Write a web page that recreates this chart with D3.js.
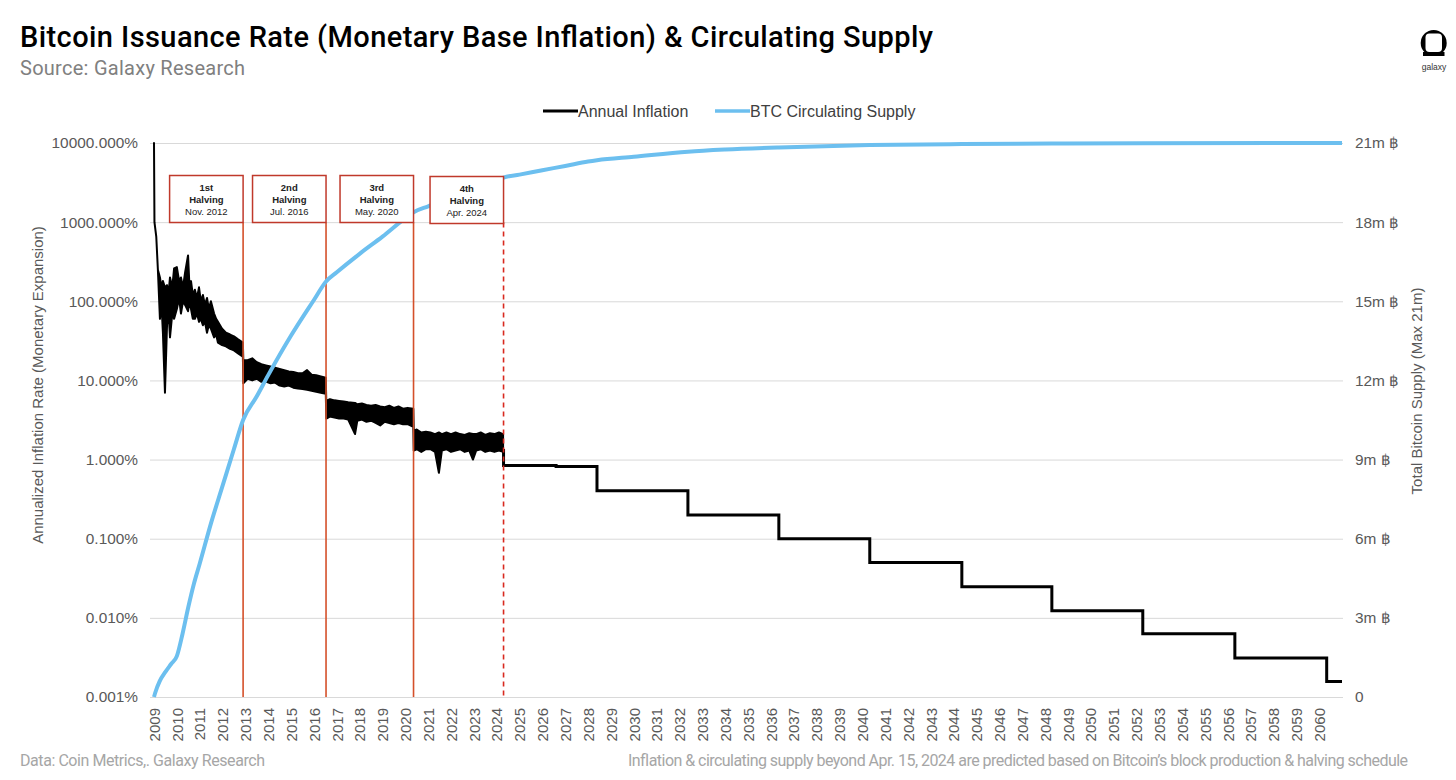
<!DOCTYPE html>
<html>
<head>
<meta charset="utf-8">
<script src="https://cdn.jsdelivr.net/npm/d3@7"></script>
<style>
  body { margin: 0; background: #fff; }
  svg { display: block; }
</style>
</head>
<body>
<svg id="chart" width="1456" height="780"></svg>
<script>
// year ticks on the category axis
const years = d3.range(2009, 2061);

// historical annual inflation, % : [year, low, high]
const inflationHistory = [
  [2009.00, 10000, 10000], [2009.02, 1000, 1000], [2009.10, 650, 650], [2009.17, 250, 250],
  [2009.26, 60, 200], [2009.33, 90, 150], [2009.39, 40, 180], [2009.48, 7, 150], [2009.57, 50, 160],
  [2009.63, 80, 120], [2009.70, 35, 200], [2009.80, 70, 150], [2009.88, 60, 260], [2010.00, 80, 270],
  [2010.10, 110, 180], [2010.18, 70, 200], [2010.27, 100, 150], [2010.36, 90, 230], [2010.49, 75, 380],
  [2010.55, 100, 160], [2010.62, 80, 180], [2010.70, 60, 120], [2010.79, 60, 140], [2010.88, 70, 110],
  [2010.97, 55, 150], [2011.05, 60, 100], [2011.14, 50, 120], [2011.23, 55, 90], [2011.32, 40, 110],
  [2011.40, 50, 80], [2011.49, 45, 100], [2011.63, 35, 70], [2011.72, 38, 60], [2011.80, 30, 55],
  [2011.98, 28, 45], [2012.15, 27, 40], [2012.33, 25, 38], [2012.50, 24, 36], [2012.68, 22, 33],
  [2012.89, 20, 30],
  [2012.91, 9.2, 18], [2013.10, 10.5, 18], [2013.30, 10, 19], [2013.50, 10.5, 17],
  [2013.70, 9.6, 16], [2013.90, 9.7, 15.5], [2014.10, 9.2, 15], [2014.30, 9.4, 14.5],
  [2014.50, 8.6, 14], [2014.70, 8.4, 13.5], [2014.90, 8.6, 13], [2015.10, 8.1, 12.8],
  [2015.30, 7.9, 12.3], [2015.50, 7.8, 12.3], [2015.70, 7.6, 13.5], [2015.90, 7.4, 11.8],
  [2016.10, 7.2, 11.6], [2016.30, 7.0, 11.2], [2016.52, 6.8, 10.8],
  [2016.54, 3.3, 5.5], [2016.70, 3.5, 5.8], [2016.90, 3.4, 5.6], [2017.10, 3.3, 5.5],
  [2017.30, 3.3, 5.4], [2017.50, 3.2, 5.3], [2017.80, 2.1, 5.2], [2017.90, 3.1, 5.0],
  [2018.10, 3.2, 5.1], [2018.30, 3.0, 4.9], [2018.50, 3.1, 4.8], [2018.70, 2.9, 4.9],
  [2018.90, 2.7, 4.7], [2019.10, 3.0, 4.6], [2019.30, 2.9, 4.8], [2019.50, 2.8, 4.5],
  [2019.70, 2.9, 4.7], [2019.90, 2.8, 4.4], [2020.10, 2.8, 4.5], [2020.35, 2.6, 4.4],
  [2020.37, 1.3, 2.3], [2020.50, 1.35, 2.4], [2020.70, 1.25, 2.2], [2020.90, 1.35, 2.25],
  [2021.10, 1.35, 2.2], [2021.30, 1.25, 2.1], [2021.47, 0.68, 2.2], [2021.60, 1.3, 2.1],
  [2021.80, 1.35, 2.2], [2022.00, 1.25, 2.1], [2022.20, 1.3, 2.2], [2022.40, 1.35, 2.1],
  [2022.60, 1.25, 2.05], [2022.80, 1.3, 2.15], [2022.96, 1.0, 2.1], [2023.10, 1.3, 2.1],
  [2023.30, 1.35, 2.2], [2023.50, 1.25, 2.05], [2023.70, 1.3, 2.15], [2023.90, 1.25, 2.1],
  [2024.10, 1.3, 2.2], [2024.28, 1.25, 2.1]
];

// projected annual inflation after Apr 2024, % : [year, value]
const inflationProjected = [
  [2024.29, 1.3], [2024.30, 0.84], [2026.60, 0.82], [2028.39, 0.405], [2032.37, 0.20],
  [2036.35, 0.10], [2040.33, 0.05], [2044.36, 0.0247], [2048.30, 0.0123],
  [2052.28, 0.0063], [2056.31, 0.0031], [2060.33, 0.00157], [2061.00, 0.00157]
];

// circulating supply, millions of BTC : [year, supply]
const supply = [
  [2009.00, 0], [2009.05, 0.15], [2009.25, 0.6], [2009.50, 0.95], [2009.75, 1.25],
  [2010.00, 1.55], [2010.25, 2.4], [2010.50, 3.4], [2010.75, 4.3], [2011.00, 5.05],
  [2011.50, 6.6], [2012.00, 8.0], [2012.50, 9.4], [2012.90, 10.5], [2013.50, 11.4],
  [2014.00, 12.2], [2015.00, 13.7], [2016.00, 15.05], [2016.53, 15.75], [2017.00, 16.1],
  [2018.00, 16.8], [2019.00, 17.45], [2020.00, 18.15], [2020.36, 18.375], [2021.00, 18.6],
  [2022.00, 18.92], [2023.00, 19.25], [2024.00, 19.58], [2024.30, 19.69], [2025.00, 19.8],
  [2026.00, 19.97], [2027.00, 20.13], [2028.00, 20.3], [2028.39, 20.35], [2030.00, 20.48],
  [2032.37, 20.67], [2034.00, 20.75], [2036.35, 20.83], [2040.33, 20.92], [2044.36, 20.96],
  [2048.30, 20.98], [2052.28, 20.99], [2061.00, 21.0]
];

// halving events
const halvings = [
  { date: 2012.90, rank: "1st", label: "Nov. 2012", dashed: false },
  { date: 2016.53, rank: "2nd", label: "Jul. 2016", dashed: false },
  { date: 2020.36, rank: "3rd", label: "May. 2020", dashed: false },
  { date: 2024.30, rank: "4th", label: "Apr. 2024", dashed: true }
];

const leftTicks = [0.001, 0.01, 0.1, 1, 10, 100, 1000, 10000];
const rightTicks = [0, 3, 6, 9, 12, 15, 18, 21];

const svg = d3.select("#chart");
const font = "Arial, 'Liberation Sans', sans-serif";
const plot = { left: 150, right: 1343, top: 143, bottom: 697 };

const x = d3.scaleLinear().domain([2009, 2061]).range([154, 1342]);
const yL = d3.scaleLog().domain([0.001, 10000]).range([plot.bottom, plot.top]);
const yR = d3.scaleLinear().domain([0, 21]).range([plot.bottom, plot.top]);

// titles
svg.append("text").attr("x", 20).attr("y", 47)
  .attr("font-family", "Roboto, Inter, sans-serif").attr("font-weight", 500)
  .attr("font-size", 29).attr("fill", "#000")
  .attr("textLength", 913).attr("lengthAdjust", "spacing")
  .text("Bitcoin Issuance Rate (Monetary Base Inflation) & Circulating Supply");

svg.append("text").attr("x", 20).attr("y", 75)
  .attr("font-family", "Roboto, Inter, sans-serif")
  .attr("font-size", 20).attr("fill", "#808080")
  .attr("textLength", 225).attr("lengthAdjust", "spacing")
  .text("Source: Galaxy Research");

// footer notes
svg.append("text").attr("x", 20).attr("y", 766)
  .attr("font-family", "Roboto, Inter, sans-serif")
  .attr("font-size", 16).attr("fill", "#a6a6a6")
  .attr("textLength", 245).attr("lengthAdjust", "spacing")
  .text("Data: Coin Metrics,. Galaxy Research");

svg.append("text").attr("x", 628).attr("y", 766)
  .attr("font-family", "Roboto, Inter, sans-serif")
  .attr("font-size", 16).attr("fill", "#a6a6a6")
  .attr("textLength", 780).attr("lengthAdjust", "spacing")
  .text("Inflation & circulating supply beyond Apr. 15, 2024 are predicted based on Bitcoin\u2019s block production & halving schedule");

// galaxy logo
const logo = svg.append("g");
logo.append("circle").attr("cx", 1433.7).attr("cy", 43).attr("r", 13).attr("fill", "#000");
logo.append("rect").attr("x", 1425.5).attr("y", 33.5).attr("width", 16.5).attr("height", 18.5)
  .attr("rx", 4).attr("fill", "#fff");
logo.append("rect").attr("x", 1423).attr("y", 52).attr("width", 21.5).attr("height", 4).attr("fill", "#000");
logo.append("text").attr("x", 1434).attr("y", 70).attr("text-anchor", "middle")
  .attr("font-family", font).attr("font-size", 8.5).attr("fill", "#333").text("galaxy");

// legend
const legend = svg.append("g").attr("font-family", font).attr("font-size", 16).attr("fill", "#404040");
legend.append("line").attr("x1", 543).attr("x2", 578).attr("y1", 111).attr("y2", 111)
  .attr("stroke", "#000").attr("stroke-width", 3);
legend.append("text").attr("x", 578).attr("y", 111).attr("dy", "0.35em").text("Annual Inflation");
legend.append("line").attr("x1", 715).attr("x2", 750).attr("y1", 111).attr("y2", 111)
  .attr("stroke", "#6cbfef").attr("stroke-width", 3.5);
legend.append("text").attr("x", 750).attr("y", 111).attr("dy", "0.35em").text("BTC Circulating Supply");

// gridlines
svg.append("g").selectAll("line").data(rightTicks).join("line")
  .attr("x1", plot.left).attr("x2", plot.right)
  .attr("y1", d => yR(d) + 0.5).attr("y2", d => yR(d) + 0.5)
  .attr("stroke", "#d9d9d9").attr("stroke-width", 1);

// left axis
const leftAxis = svg.append("g").attr("transform", `translate(146,0)`)
  .call(d3.axisLeft(yL).tickValues(leftTicks).tickSize(0).tickPadding(8)
    .tickFormat(d => d.toFixed(3) + "%"));
leftAxis.select(".domain").remove();
leftAxis.selectAll("text").attr("font-family", font).attr("font-size", 15.4).attr("fill", "#595959");

// right axis
const rightAxis = svg.append("g").attr("transform", `translate(1347,0)`)
  .call(d3.axisRight(yR).tickValues(rightTicks).tickSize(0).tickPadding(8)
    .tickFormat(d => d === 0 ? "0" : d + "m \u0E3F"));
rightAxis.select(".domain").remove();
rightAxis.selectAll("text").attr("font-family", font).attr("font-size", 15.4).attr("fill", "#595959");

// x axis
const xAxis = svg.append("g").attr("transform", `translate(0,${plot.bottom})`)
  .call(d3.axisBottom(x).tickValues(years).tickSize(0).tickFormat(d3.format("d")));
xAxis.select(".domain").remove();
xAxis.selectAll("text")
  .attr("transform", "rotate(-90)")
  .attr("x", -11).attr("y", 0).attr("dy", "0.35em")
  .attr("text-anchor", "end")
  .attr("font-family", font).attr("font-size", 15).attr("fill", "#595959");

// axis titles
svg.append("text").attr("transform", "translate(43,385) rotate(-90)")
  .attr("text-anchor", "middle").attr("font-family", font).attr("font-size", 15).attr("fill", "#595959")
  .text("Annualized Inflation Rate (Monetary Expansion)");
svg.append("text").attr("transform", "translate(1417,391) rotate(-90)")
  .attr("text-anchor", "middle").attr("dy", "0.35em").attr("font-family", font).attr("font-size", 15).attr("fill", "#595959")
  .text("Total Bitcoin Supply (Max 21m)");

// inflation: historical band
const band = d3.area()
  .x(d => x(d[0]))
  .y0(d => yL(d[1]))
  .y1(d => yL(d[2]));
svg.append("path").attr("d", band(inflationHistory))
  .attr("fill", "#000").attr("stroke", "#000").attr("stroke-width", 2).attr("stroke-linejoin", "round");

// inflation: projected steps
const stepLine = d3.line().curve(d3.curveStepAfter)
  .x(d => x(d[0])).y(d => yL(d[1]));
svg.append("path").attr("d", stepLine(inflationProjected))
  .attr("fill", "none").attr("stroke", "#000").attr("stroke-width", 3);

// halving lines
const boxTop = 175.5, boxH = 47, boxW = 73.5;
svg.append("g").selectAll("line").data(halvings).join("line")
  .attr("x1", d => x(d.date)).attr("x2", d => x(d.date))
  .attr("y1", boxTop + boxH).attr("y2", plot.bottom)
  .attr("stroke", d => d.dashed ? "#d8291f" : "#d4502a")
  .attr("stroke-width", 1.6)
  .attr("stroke-dasharray", d => d.dashed ? "5,4" : null);

// supply line
const supplyLine = d3.line().curve(d3.curveMonotoneX)
  .x(d => x(d[0])).y(d => yR(d[1]));
svg.append("path").attr("d", supplyLine(supply))
  .attr("fill", "none").attr("stroke", "#6cbfef").attr("stroke-width", 4);

// halving boxes
const boxes = svg.append("g").selectAll("g").data(halvings).join("g")
  .attr("transform", (d, i) => `translate(${x(d.date) - boxW},${boxTop + (d.dashed ? 1 : 0)})`);
boxes.append("rect").attr("width", boxW).attr("height", boxH)
  .attr("fill", "#fff").attr("stroke", "#c0392b").attr("stroke-width", 1.5);
boxes.append("text").attr("x", boxW / 2).attr("y", 15.5).attr("text-anchor", "middle")
  .attr("font-family", font).attr("font-size", 9.5).attr("font-weight", "bold").attr("fill", "#222")
  .text(d => d.rank);
boxes.append("text").attr("x", boxW / 2).attr("y", 27).attr("text-anchor", "middle")
  .attr("font-family", font).attr("font-size", 9.5).attr("font-weight", "bold").attr("fill", "#222")
  .text("Halving");
boxes.append("text").attr("x", boxW / 2).attr("y", 39).attr("text-anchor", "middle")
  .attr("font-family", font).attr("font-size", 9.5).attr("fill", "#222")
  .text(d => d.label);
</script>
</body>
</html>
